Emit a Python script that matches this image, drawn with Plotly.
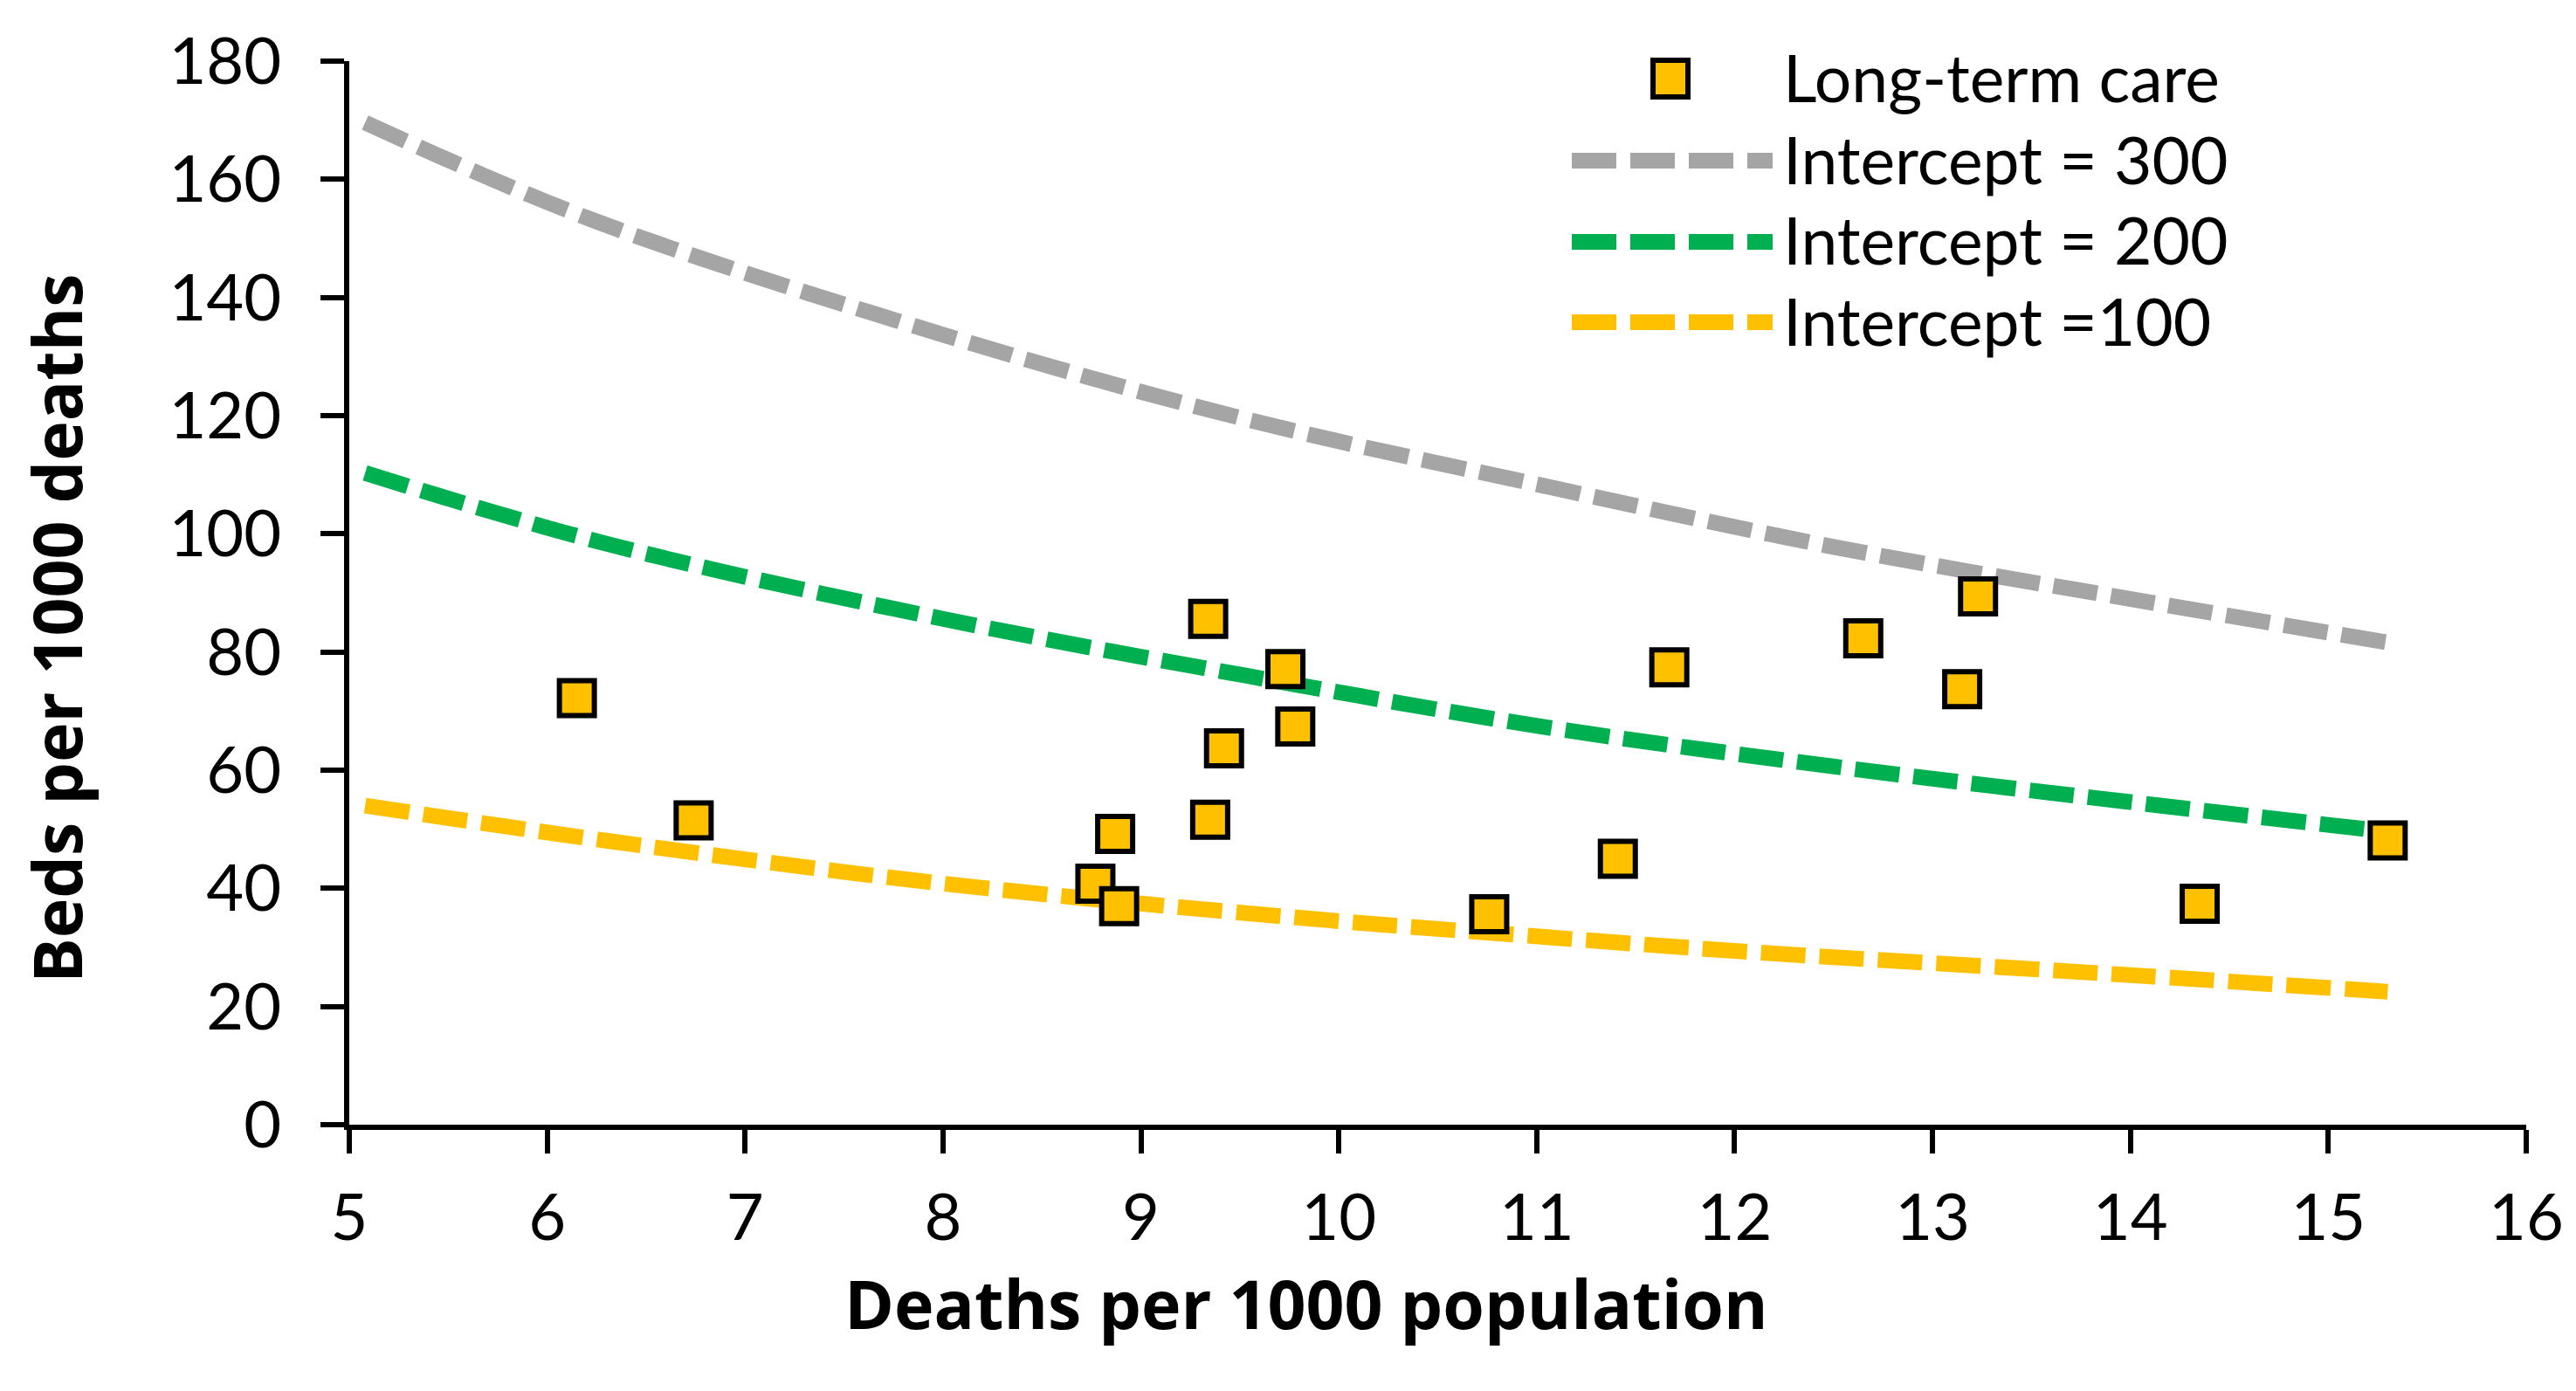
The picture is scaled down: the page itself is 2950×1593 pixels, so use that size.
import plotly.graph_objects as go

# ---- data ----
ltc_x = [6.15, 6.74, 8.77, 8.87, 8.89, 9.34, 9.35, 9.42, 9.73, 9.78,
         10.76, 11.41, 11.67, 12.65, 13.15, 13.23, 14.35, 15.30]
ltc_y = [72.2, 51.5, 40.8, 49.2, 37.0, 85.6, 51.6, 63.7, 77.1, 67.4,
         35.6, 45.0, 77.4, 82.3, 73.7, 89.4, 37.4, 48.1]

i300_x = [5.08, 6.23, 8.0, 9.53, 11.08, 12.53, 14.1, 15.3]
i300_y = [169.6, 153.1, 133.7, 119.4, 107.8, 97.6, 88.4, 81.6]

i200_x = [5.08, 6.29, 8.0, 9.53, 11.08, 12.53, 14.1, 15.3]
i200_y = [110.3, 98.4, 85.6, 76.0, 67.1, 60.5, 54.2, 49.6]

i100_x = [5.08, 6.29, 8.0, 9.84, 10.95, 12.05, 13.91, 15.3]
i100_y = [54.0, 48.1, 40.8, 34.9, 32.0, 29.3, 25.5, 22.5]

legend_names = ["Long-term care", "Intercept = 300", "Intercept = 200", "Intercept =100"]
x_title = "Deaths per 1000 population"
y_title = "Beds per 1000 deaths"

GRAY, GREEN, YELLOW = "#A5A5A5", "#00B050", "#FFC000"
FONT = "Lato"
TITLE_FONT = "Open Sans"
DASH = "51px,16px"

# page has an 8px body margin; work in window pixels and compensate
OFF = 8
W, H = 2950 - OFF, 1593 - OFF
PL, PT, PR, PB = 400, 70, 2893, 1288          # plot area in window pixels
ML, MT = PL - OFF, PT - OFF
MR, MB = W - (PR - OFF), H - (PB - OFF)
PW, PH = PR - PL, PB - PT


def px2paper_x(px):
    return (px - PL) / PW


def px2paper_y(py):
    return (PB - py) / PH


fig = go.Figure()
for xs, ys, col, name in [(i300_x, i300_y, GRAY, legend_names[1]),
                          (i200_x, i200_y, GREEN, legend_names[2]),
                          (i100_x, i100_y, YELLOW, legend_names[3])]:
    fig.add_trace(go.Scatter(x=xs, y=ys, mode="lines", name=name, showlegend=False,
                             line=dict(color=col, width=18, dash=DASH, shape="spline")))

fig.add_trace(go.Scatter(x=ltc_x, y=ltc_y, mode="markers", name=legend_names[0], showlegend=False,
                         marker=dict(symbol="square", size=40, color=YELLOW,
                                     line=dict(color="black", width=6))))

# ---- custom legend (long line samples like the original) ----
shapes = []
annotations = []
rows_y = [88, 182, 274, 367]
lx0, lx1 = 1800, 2030
shapes.append(dict(type="rect", xref="paper", yref="paper",
                   x0=px2paper_x(1893), x1=px2paper_x(1933),
                   y0=px2paper_y(90 - 21), y1=px2paper_y(90 + 21),
                   fillcolor=YELLOW, line=dict(color="black", width=6)))
for ry, col in zip([184, 277, 369], [GRAY, GREEN, YELLOW]):
    shapes.append(dict(type="line", xref="paper", yref="paper",
                       x0=px2paper_x(lx0), x1=px2paper_x(lx1),
                       y0=px2paper_y(ry), y1=px2paper_y(ry),
                       line=dict(color=col, width=18, dash=DASH)))
for ry, name in zip(rows_y, legend_names):
    annotations.append(dict(text=name, xref="paper", yref="paper",
                            x=px2paper_x(2040), y=px2paper_y(ry),
                            xanchor="left", yanchor="middle", showarrow=False,
                            font=dict(family=FONT, size=75, color="black")))

# axis titles
annotations.append(dict(text=x_title, xref="paper", yref="paper",
                        x=px2paper_x(1496), y=px2paper_y(1492),
                        xanchor="center", yanchor="middle", showarrow=False,
                        font=dict(family=TITLE_FONT, size=77, color="black", weight="bold")))
annotations.append(dict(text=y_title, xref="paper", yref="paper",
                        x=px2paper_x(64), y=px2paper_y(720), textangle=-90,
                        xanchor="center", yanchor="middle", showarrow=False,
                        font=dict(family=TITLE_FONT, size=77, color="black", weight="bold")))

axis_common = dict(showline=True, linecolor="black", linewidth=6, ticks="outside",
                   ticklen=27, tickwidth=6, tickcolor="black", showgrid=False,
                   zeroline=False, tickfont=dict(family=FONT, size=74, color="black"))

fig.update_layout(
    width=W, height=H,
    margin=dict(l=ML, r=MR, t=MT, b=MB, pad=0),
    paper_bgcolor="white", plot_bgcolor="white",
    showlegend=False,
    xaxis=dict(range=[5, 16], dtick=1, tick0=5, ticklabelstandoff=10, **axis_common),
    yaxis=dict(range=[0, 180], dtick=20, tick0=0, ticklabelstandoff=30, **axis_common),
    shapes=shapes, annotations=annotations,
    font=dict(family=FONT, color="black"),
)

fig.write_html("out.html")
